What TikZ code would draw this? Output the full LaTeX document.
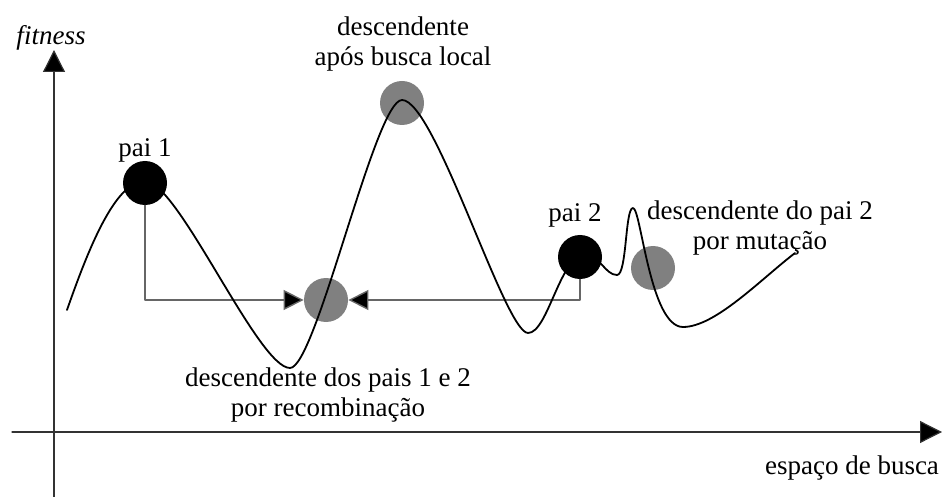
\documentclass[tikz,border=0pt]{standalone}
\usepackage{fontspec}
\setmainfont{Liberation Serif}
\usetikzlibrary{arrows.meta}
\begin{document}
\begin{tikzpicture}[x=0.5pt,y=-0.5pt,font=\fontsize{13.5}{15}\selectfont,line join=round,line cap=round,
		parent/.style={circle,fill=black,minimum size=22pt,inner sep=0pt},
		offspring/.style={circle,fill=black!50,minimum size=22pt,inner sep=0pt},
		link/.style={draw=black!60,line width=0.7pt,-{Triangle[length=10pt,width=10pt,fill=black]}},
		axis/.style={draw=black!80,line width=0.6pt,-{Triangle[length=11pt,width=11pt,fill=black]}},
		landscape/.style={draw=black,line width=0.9pt}]
			\useasboundingbox (0,0) rectangle (942,497);
			\coordinate (Y0) at (54,497);
			\coordinate (Y1) at (54,50);
			\coordinate (X0) at (12,432);
			\coordinate (X1) at (942,432);
			
			\draw[axis] (Y0) -- (Y1);
			\draw[axis] (X0) -- (X1);
			
			\node[parent] (pai1) at (145,183) {};
			\node[offspring] (local) at (402,103) {};
			\node[offspring] (rec) at (326,300) {};
			\node[parent] (pai2) at (580,257) {};
			\node[offspring] (mut) at (653,268) {};
			
			\draw[link] (pai1.south) |- (rec);
			\draw[link] (pai2.south) |- (rec);
			
			% fitness landscape
			\draw[landscape] (67,310) .. controls (88,250) and (115,181) .. (145,181)
				.. controls (178,181) and (258,368) .. (290,368)
				.. controls (316,368) and (375,100) .. (402,100)
				.. controls (435,100) and (505,333) .. (528,333)
				.. controls (548,333) and (560,255) .. (585,255)
				.. controls (600,255) and (605,275) .. (617,275)
				.. controls (627,275) and (625,208) .. (633,208)
				.. controls (641,208) and (650,327) .. (683,327)
				.. controls (715,327) and (760,280) .. (795,253);
			
			\node (fit) at (51,38) {\itshape fitness};
			\node (lpai1) at (145,150) {pai 1};
			\node[align=center] (llocal) at (403,44) {descendente\\após busca local};
			\node (lpai2) at (575,215) {pai 2};
			\node[align=center] (lmut) at (760,228) {descendente do pai 2\\por mutação};
			\node[align=center] (lrec) at (328,395) {descendente dos pais 1 e 2\\por recombinação};
			\node (lx) at (852,468) {espaço de busca};
		\end{tikzpicture}
\end{document}
